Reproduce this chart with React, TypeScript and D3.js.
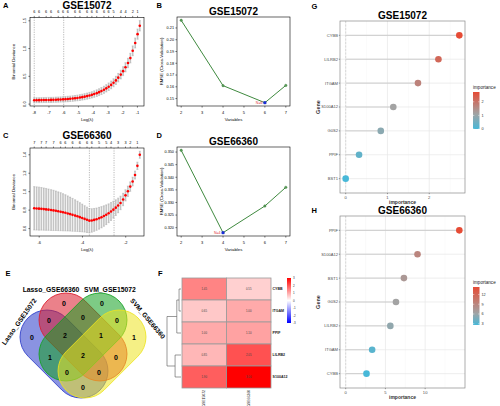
import React from 'react';
import * as d3 from 'd3';

const FONT = "'Liberation Sans', Arial, Helvetica, sans-serif";

// ---------- A: LASSO GSE15072 ----------
const lassoA_logLambda = [-8.00, -7.84, -7.67, -7.51, -7.35, -7.19, -7.02, -6.86, -6.70, -6.53, -6.37, -6.21, -6.04, -5.88, -5.72, -5.56, -5.39, -5.23, -5.07, -4.90, -4.74, -4.58, -4.41, -4.25, -4.09, -3.93, -3.76, -3.60, -3.44, -3.27, -3.11, -2.95, -2.78, -2.62, -2.46, -2.30, -2.13, -1.97, -1.81, -1.64, -1.48, -1.32, -1.15, -0.99, -0.84];
const lassoA_deviance = [0.070, 0.071, 0.071, 0.072, 0.073, 0.074, 0.075, 0.076, 0.077, 0.079, 0.081, 0.083, 0.086, 0.089, 0.092, 0.096, 0.100, 0.105, 0.111, 0.118, 0.125, 0.134, 0.144, 0.155, 0.167, 0.181, 0.197, 0.215, 0.235, 0.258, 0.284, 0.313, 0.346, 0.384, 0.427, 0.476, 0.531, 0.593, 0.663, 0.741, 0.828, 0.960, 1.100, 1.260, 1.410];
const lassoA_se = [0.045, 0.045, 0.045, 0.045, 0.045, 0.046, 0.046, 0.046, 0.046, 0.047, 0.047, 0.047, 0.048, 0.048, 0.049, 0.049, 0.050, 0.050, 0.051, 0.052, 0.053, 0.054, 0.055, 0.056, 0.057, 0.058, 0.060, 0.061, 0.063, 0.064, 0.066, 0.068, 0.070, 0.072, 0.074, 0.076, 0.078, 0.080, 0.082, 0.084, 0.086, 0.088, 0.090, 0.092, 0.094];
const lassoA_topCounts = [6, 6, 6, 6, 6, 6, 6, 6, 6, 6, 6, 6, 6, 6, 5, 4, 4, 2, 1];
const lassoA_xTicks = [-8, -7, -6, -5, -4, -3, -2, -1];
const lassoA_yTicks = [0.0, 0.5, 1.0, 1.5];
const lassoA_vlines = [-8.0, -6.0];

// ---------- C: LASSO GSE66360 ----------
const lassoC_logLambda = [-6.23, -6.12, -6.01, -5.90, -5.79, -5.68, -5.57, -5.45, -5.34, -5.23, -5.12, -5.01, -4.90, -4.79, -4.68, -4.57, -4.46, -4.34, -4.23, -4.12, -4.01, -3.90, -3.79, -3.68, -3.57, -3.46, -3.35, -3.23, -3.12, -3.01, -2.90, -2.79, -2.68, -2.57, -2.46, -2.35, -2.24, -2.12, -2.01, -1.90, -1.79, -1.68, -1.57, -1.46, -1.35];
const lassoC_deviance = [0.820, 0.818, 0.816, 0.814, 0.811, 0.808, 0.805, 0.801, 0.797, 0.793, 0.788, 0.783, 0.777, 0.771, 0.764, 0.757, 0.749, 0.741, 0.733, 0.724, 0.715, 0.705, 0.695, 0.686, 0.688, 0.694, 0.702, 0.712, 0.723, 0.736, 0.750, 0.766, 0.785, 0.805, 0.827, 0.851, 0.878, 0.915, 0.960, 1.005, 1.055, 1.110, 1.180, 1.280, 1.400];
const lassoC_se = [0.235, 0.234, 0.233, 0.231, 0.229, 0.227, 0.224, 0.221, 0.218, 0.214, 0.210, 0.206, 0.201, 0.196, 0.190, 0.184, 0.178, 0.171, 0.164, 0.157, 0.150, 0.143, 0.137, 0.131, 0.127, 0.124, 0.121, 0.118, 0.115, 0.111, 0.107, 0.102, 0.097, 0.091, 0.085, 0.079, 0.073, 0.067, 0.061, 0.056, 0.051, 0.047, 0.043, 0.040, 0.038];
const lassoC_topCounts = [7, 7, 7, 7, 6, 6, 6, 6, 6, 6, 5, 5, 4, 3, 3, 2, 1];
const lassoC_xTicks = [-6, -4, -2];
const lassoC_yTicks = [0.6, 0.8, 1.0, 1.2, 1.4];
const lassoC_vlines = [-3.68, -2.54];

// ---------- B / D: SVM-RFE ----------
const rfeB_vars = [2, 4, 6, 7];
const rfeB_rmse = [0.2165, 0.1610, 0.1465, 0.1612];
const rfeB_xTicks = [2, 3, 4, 5, 6, 7];
const rfeB_yTicks = [0.15, 0.16, 0.17, 0.18, 0.19, 0.20, 0.21];
const rfeD_vars = [2, 4, 6, 7];
const rfeD_rmse = [0.3507, 0.3180, 0.3286, 0.3360];
const rfeD_xTicks = [2, 3, 4, 5, 6, 7];
const rfeD_yTicks = [0.320, 0.325, 0.330, 0.335, 0.340, 0.345, 0.350];

// ---------- E: Venn ----------
const vennSets = ['Lasso_GSE15072', 'Lasso_GSE66360', 'SVM_GSE15072', 'SVM_GSE66360'];
const vennColors = ['#2A3AC8', '#DA1A2A', '#12A020', '#ECE420'];
// region key: membership of [Lasso_GSE15072, Lasso_GSE66360, SVM_GSE15072, SVM_GSE66360]
const vennRegionKeys = ['1000', '0100', '0010', '0001', '1100', '1010', '1001', '0110', '0101', '0011', '1110', '1101', '1011', '0111', '1111'];
const vennRegionCounts = [0, 0, 0, 1, 0, 1, 0, 0, 0, 0, 2, 0, 0, 1, 2];

// ---------- F: heatmap ----------
const heatGenes = ['CYBB', 'ITGAM', 'PPIF', 'LILRB2', 'S100A12'];
const heatColumns = ['GSE15072', 'GSE66360'];
const heatValsCol1 = [1.45, 0.65, 1.00, 0.85, 1.90];
const heatValsCol2 = [0.55, 1.00, 1.10, 2.05, 3.00];
const heatLegendTicks = [3, 2, 1, 0, -1, -2, -3];
const dendroMerges = [
  { a: 'CYBB', b: 'ITGAM', h: 0.25 },
  { a: 'm0', b: 'PPIF', h: 0.54 },
  { a: 'LILRB2', b: 'S100A12', h: 0.76 },
  { a: 'm1', b: 'm2', h: 1.8 },
];

// ---------- G / H: importance ----------
const impG_genes = ['CYBB', 'LILRB2', 'ITGAM', 'S100A12', 'G0S2', 'PPIF', 'BST1'];
const impG_vals = [2.72, 2.22, 1.73, 1.14, 0.84, 0.32, 0.00];
const impG_xTicks = [0, 1, 2];
const impG_legendTicks = [0, 1, 2];
const impH_genes = ['PPIF', 'S100A12', 'BST1', 'G0S2', 'LILRB2', 'ITGAM', 'CYBB'];
const impH_vals = [14.3, 9.04, 7.33, 6.33, 5.62, 3.33, 2.62];
const impH_xTicks = [0, 5, 10];
const impH_legendTicks = [3, 6, 9, 12];

function padExtent(vals: number[], frac = 0.04): [number, number] {
  const [a, b] = d3.extent(vals) as [number, number];
  const p = (b - a) * frac;
  return [a - p, b + p];
}

function Letter({ x, y, t }: any) {
  return <text x={x} y={y} fontSize={7.5} fontWeight="bold" fontFamily={FONT}>{t}</text>;
}

function LassoPanel(p: any) {
  const { left, right, top, bottom, logL, dev, se, topCounts, xTicks, yTicks, vlines, title, titleBase } = p;
  const x = d3.scaleLinear().domain(padExtent(logL)).range([left, right]);
  const lo = dev.map((d: number, i: number) => d - se[i]);
  const hi = dev.map((d: number, i: number) => d + se[i]);
  const y = d3.scaleLinear().domain(padExtent([...lo, ...hi])).range([bottom, top]);
  const cx = (left + right) / 2;
  const cy = (top + bottom) / 2;
  const n = logL.length;
  const m = topCounts.length;
  const fmt = d3.format('.1f');
  return (
    <g fontFamily={FONT}>
      <text x={cx} y={titleBase} textAnchor="middle" fontSize={10} fontWeight="bold">{title}</text>
      {vlines.map((v: number) => (
        <line key={v} x1={x(v)} x2={x(v)} y1={top} y2={bottom} stroke="#8a8a8a" strokeWidth={0.6} strokeDasharray="1.2,1.2" />
      ))}
      {logL.map((l: number, i: number) => (
        <g key={'e' + i} stroke="#c4c4c4" strokeWidth={1.6}>
          <line x1={x(l)} x2={x(l)} y1={y(lo[i])} y2={y(hi[i])} />
        </g>
      ))}
      {logL.map((l: number, i: number) => (
        <g key={'c' + i} stroke="#a8a8a8" strokeWidth={0.5}>
          <line x1={x(l) - 1} x2={x(l) + 1} y1={y(lo[i])} y2={y(lo[i])} />
          <line x1={x(l) - 1} x2={x(l) + 1} y1={y(hi[i])} y2={y(hi[i])} />
        </g>
      ))}
      {logL.map((l: number, i: number) => (
        <circle key={'p' + i} cx={x(l)} cy={y(dev[i])} r={1.3} fill="#ff0000" />
      ))}
      <rect x={left} y={top} width={right - left} height={bottom - top} fill="none" stroke="#000" strokeWidth={0.6} />
      {xTicks.map((t: number) => (
        <g key={'xt' + t}>
          <line x1={x(t)} x2={x(t)} y1={bottom} y2={bottom + 1.6} stroke="#000" strokeWidth={0.5} />
          <text x={x(t)} y={bottom + 7.5} fontSize={4} textAnchor="middle">{t}</text>
        </g>
      ))}
      {yTicks.map((t: number) => (
        <g key={'yt' + t}>
          <line x1={left - 1.6} x2={left} y1={y(t)} y2={y(t)} stroke="#000" strokeWidth={0.5} />
          <text transform={`translate(${left - 4.3},${y(t)}) rotate(-90)`} fontSize={4} textAnchor="middle">{fmt(t)}</text>
        </g>
      ))}
      {topCounts.map((c: number, k: number) => {
        const idx = Math.round((k * (n - 2)) / (m - 1));
        const xx = x(logL[idx]);
        return (
          <g key={'tc' + k}>
            <line x1={xx} x2={xx} y1={top} y2={top - 1.4} stroke="#000" strokeWidth={0.5} />
            <text x={xx} y={top - 4.5} fontSize={3.8} textAnchor="middle">{c}</text>
          </g>
        );
      })}
      <text x={cx} y={bottom + 15} fontSize={4.3} textAnchor="middle">Log(λ)</text>
      <text transform={`translate(${left - 15.5},${cy}) rotate(-90)`} fontSize={4.3} textAnchor="middle">Binomial Deviance</text>
    </g>
  );
}

function RfePanel(p: any) {
  const { left, right, top, bottom, vars, rmse, xTicks, yTicks, title, titleBase, yFmt } = p;
  const x = d3.scaleLinear().domain(padExtent(vars)).range([left, right]);
  const y = d3.scaleLinear().domain(padExtent(rmse)).range([bottom, top]);
  const line = d3.line<number>().x((_, i) => x(vars[i])).y((d) => y(d));
  const best = d3.minIndex(rmse);
  const fmt = d3.format(yFmt);
  const cx = (left + right) / 2;
  const cy = (top + bottom) / 2;
  return (
    <g fontFamily={FONT}>
      <text x={cx} y={titleBase} textAnchor="middle" fontSize={10} fontWeight="bold">{title}</text>
      <path d={line(rmse) || ''} fill="none" stroke="#3f8a3f" strokeWidth={1} />
      {rmse.map((r: number, i: number) => (
        <circle key={i} cx={x(vars[i])} cy={y(r)} r={1.2} fill="#5aa05a" stroke="#2f6f2f" strokeWidth={0.4} />
      ))}
      <rect x={x(vars[best]) - 1.4} y={y(rmse[best]) - 1.4} width={2.8} height={2.8} fill="#1a2bdc" />
      <text x={x(vars[best]) - 2.4} y={y(rmse[best]) + 1.3} fontSize={3.6} fill="#e0303a" textAnchor="end">{`N=${vars[best]}`}</text>
      <rect x={left} y={top} width={right - left} height={bottom - top} fill="none" stroke="#000" strokeWidth={0.6} />
      {xTicks.map((t: number) => (
        <g key={'xt' + t}>
          <line x1={x(t)} x2={x(t)} y1={bottom} y2={bottom + 1.6} stroke="#000" strokeWidth={0.5} />
          <text x={x(t)} y={bottom + 7.5} fontSize={4} textAnchor="middle">{t}</text>
        </g>
      ))}
      {yTicks.map((t: number) => (
        <g key={'yt' + t}>
          <line x1={left - 1.6} x2={left} y1={y(t)} y2={y(t)} stroke="#000" strokeWidth={0.5} />
          <text x={left - 3} y={y(t) + 1.3} fontSize={3.8} textAnchor="end">{fmt(t)}</text>
        </g>
      ))}
      <text x={cx} y={bottom + 15} fontSize={4.3} textAnchor="middle">Variables</text>
      <text transform={`translate(${left - 14},${cy}) rotate(-90)`} fontSize={4.3} textAnchor="middle">RMSE (Cross-Validation)</text>
    </g>
  );
}

// capsule geometry for the 4-set Venn (layout)
const VR = 27;
const VHALF = 24;
function capsule(cx: number, cy: number, angle: number) {
  const a = (angle * Math.PI) / 180;
  const dx = Math.cos(a) * VHALF;
  const dy = Math.sin(a) * VHALF;
  return { cx, cy, angle, p1: [cx - dx, cy - dy], p2: [cx + dx, cy + dy] };
}
function sdCapsule(px: number, py: number, c: any) {
  const [ax, ay] = c.p1;
  const [bx, by] = c.p2;
  const vx = bx - ax, vy = by - ay;
  let t = ((px - ax) * vx + (py - ay) * vy) / (vx * vx + vy * vy);
  t = Math.max(0, Math.min(1, t));
  const qx = ax + t * vx, qy = ay + t * vy;
  return Math.hypot(px - qx, py - qy) - VR;
}

function VennPanel() {
  const midX = 83;
  const shapes = [
    capsule(midX - 19, 354, 45),
    capsule(midX, 337, 45),
    capsule(midX, 337, -45),
    capsule(midX + 19, 354, -45),
  ];
  const best: Record<string, { d: number; x: number; y: number }> = {};
  for (let yy = 280; yy <= 402; yy += 1) {
    for (let xx = 15; xx <= 152; xx += 1) {
      const sds = shapes.map((s) => sdCapsule(xx, yy, s));
      const key = sds.map((d) => (d < 0 ? '1' : '0')).join('');
      if (key === '0000') continue;
      const depth = Math.min(...sds.map((d) => Math.abs(d)));
      if (!best[key] || depth > best[key].d) best[key] = { d: depth, x: xx, y: yy };
    }
  }
  return (
    <g fontFamily={FONT}>
      {shapes.map((s, i) => (
        <rect
          key={i}
          transform={`translate(${s.cx},${s.cy}) rotate(${s.angle})`}
          x={-(VHALF + VR)}
          y={-VR}
          width={2 * (VHALF + VR)}
          height={2 * VR}
          rx={VR}
          fill={vennColors[i]}
          fillOpacity={0.55}
          stroke={vennColors[i]}
          strokeWidth={0.8}
        />
      ))}
      {vennRegionKeys.map((k, i) =>
        best[k] ? (
          <text key={k} x={best[k].x} y={best[k].y + 2.5} fontSize={7} fontWeight="bold" textAnchor="middle">
            {vennRegionCounts[i]}
          </text>
        ) : null
      )}
      <text x={51} y={291.5} fontSize={6.8} fontWeight="bold" textAnchor="middle">{vennSets[1]}</text>
      <text x={110} y={291.5} fontSize={6.8} fontWeight="bold" textAnchor="middle">{vennSets[2]}</text>
      <text transform="translate(21,323) rotate(-55)" fontSize={6.6} fontWeight="bold" textAnchor="middle">{vennSets[0]}</text>
      <text transform="translate(146,320) rotate(50)" fontSize={6.6} fontWeight="bold" textAnchor="middle">{vennSets[3]}</text>
    </g>
  );
}

function HeatmapPanel() {
  const left = 182, right = 271, top = 278, bottom = 388;
  const cols = [heatValsCol1, heatValsCol2];
  const xb = d3.scaleBand().domain(heatColumns).range([left, right]);
  const yb = d3.scaleBand().domain(heatGenes).range([top, bottom]);
  const color = d3.scaleLinear<string>().domain([-3, 0, 3]).range(['#0000ff', '#ffffff', '#ff0000']);
  const fmt = d3.format('.2f');
  const maxH = d3.max(dendroMerges, (d) => d.h) as number;
  const hx = d3.scaleLinear().domain([0, maxH]).range([181, 167]);
  const nodes: Record<string, { y: number; h: number }> = {};
  heatGenes.forEach((g) => (nodes[g] = { y: (yb(g) as number) + yb.bandwidth() / 2, h: 0 }));
  const segs: any[] = [];
  dendroMerges.forEach((m, i) => {
    const A = nodes[m.a], B = nodes[m.b];
    segs.push([hx(A.h), A.y, hx(m.h), A.y]);
    segs.push([hx(B.h), B.y, hx(m.h), B.y]);
    segs.push([hx(m.h), A.y, hx(m.h), B.y]);
    nodes['m' + i] = { y: (A.y + B.y) / 2, h: m.h };
  });
  const lgTop = 278, lgBottom = 323, lgX = 287;
  const ly = d3.scaleLinear().domain([3, -3]).range([lgTop, lgBottom]);
  return (
    <g fontFamily={FONT}>
      <defs>
        <linearGradient id="heatGrad" x1="0" y1="0" x2="0" y2="1">
          <stop offset="0%" stopColor="#ff0000" />
          <stop offset="50%" stopColor="#ffffff" />
          <stop offset="100%" stopColor="#0000ff" />
        </linearGradient>
      </defs>
      {cols.map((vals, ci) =>
        vals.map((v, ri) => (
          <g key={ci + '-' + ri}>
            <rect
              x={xb(heatColumns[ci])}
              y={yb(heatGenes[ri])}
              width={xb.bandwidth()}
              height={yb.bandwidth()}
              fill={color(v)}
              stroke="#9a9a9a"
              strokeWidth={0.8}
            />
            <text
              x={(xb(heatColumns[ci]) as number) + xb.bandwidth() / 2}
              y={(yb(heatGenes[ri]) as number) + yb.bandwidth() / 2 + 1}
              fontSize={2.8}
              fill="#444"
              textAnchor="middle"
            >
              {fmt(v)}
            </text>
          </g>
        ))
      )}
      {heatGenes.map((g) => (
        <text key={g} x={right + 1.5} y={(yb(g) as number) + yb.bandwidth() / 2 + 1.2} fontSize={3.6} fontWeight="bold" fill="#222">
          {g}
        </text>
      ))}
      {heatColumns.map((c) => (
        <text
          key={c}
          transform={`translate(${(xb(c) as number) + xb.bandwidth() / 2 + 1.2},${bottom + 2}) rotate(-90)`}
          fontSize={3.4}
          textAnchor="end"
          fill="#222"
        >
          {c}
        </text>
      ))}
      {segs.map((s, i) => (
        <line key={i} x1={s[0]} y1={s[1]} x2={s[2]} y2={s[3]} stroke="#555" strokeWidth={0.6} />
      ))}
      <rect x={lgX} y={lgTop} width={4} height={lgBottom - lgTop} fill="url(#heatGrad)" />
      {heatLegendTicks.map((t) => (
        <text key={t} x={lgX + 6} y={ly(t) + 1} fontSize={3} fill="#333">{t}</text>
      ))}
    </g>
  );
}

function ImportancePanel(p: any) {
  const { genes, vals, xTicks, legendTicks, title, titleBase, left, right, top, bottom, lgTop, lgBottom, gradId } = p;
  const xDom = padExtent([0, ...vals], 0.05);
  const x = d3.scaleLinear().domain(xDom).range([left, right]);
  const y = d3.scalePoint().domain(genes).range([top, bottom]).padding(0.6);
  const [mn, mx] = d3.extent(vals) as [number, number];
  const med = d3.median(vals) as number;
  const color = d3.scaleLinear<string>().domain([mn, med, mx]).range(['#47B8D8', '#A3A3A3', '#E64B35']);
  const stepT = xTicks[1] - xTicks[0];
  const minor = [...xTicks.map((t: number) => t + stepT / 2), xTicks[0] - stepT / 2].filter((v: number) => v > xDom[0] && v < xDom[1]);
  const ly = d3.scaleLinear().domain([mn, mx]).range([lgBottom, lgTop]);
  const stops = d3.range(0, 1.0001, 0.1).map((f) => ({ f, c: color(mn + (mx - mn) * (1 - f)) }));
  const cx = (left + right) / 2;
  const cy = (top + bottom) / 2;
  const lgX = 473;
  return (
    <g fontFamily={FONT}>
      <defs>
        <linearGradient id={gradId} x1="0" y1="0" x2="0" y2="1">
          {stops.map((s) => (
            <stop key={s.f} offset={`${s.f * 100}%`} stopColor={s.c} />
          ))}
        </linearGradient>
      </defs>
      <text x={cx} y={titleBase} textAnchor="middle" fontSize={10} fontWeight="bold">{title}</text>
      <rect x={left} y={top} width={right - left} height={bottom - top} fill="#fff" />
      {minor.map((t: number) => (
        <line key={'mi' + t} x1={x(t)} x2={x(t)} y1={top} y2={bottom} stroke="#f2f2f2" strokeWidth={0.4} />
      ))}
      {xTicks.map((t: number) => (
        <line key={'ma' + t} x1={x(t)} x2={x(t)} y1={top} y2={bottom} stroke="#e6e6e6" strokeWidth={0.7} />
      ))}
      {genes.map((g: string) => (
        <line key={'gl' + g} x1={left} x2={right} y1={y(g)} y2={y(g)} stroke="#e6e6e6" strokeWidth={0.7} />
      ))}
      <line x1={x(0)} x2={x(0)} y1={top} y2={bottom} stroke="#cfcfcf" strokeWidth={0.7} strokeDasharray="2,1.5" />
      {genes.map((g: string, i: number) => (
        <line key={'sg' + g} x1={x(0)} x2={x(vals[i])} y1={y(g)} y2={y(g)} stroke="#c8c8c8" strokeWidth={0.9} />
      ))}
      {genes.map((g: string, i: number) => (
        <circle key={'pt' + g} cx={x(vals[i])} cy={y(g)} r={3.3} fill={color(vals[i])} />
      ))}
      <rect x={left} y={top} width={right - left} height={bottom - top} fill="none" stroke="#8a8a8a" strokeWidth={0.7} />
      {genes.map((g: string) => (
        <g key={'yl' + g}>
          <line x1={left - 1.2} x2={left} y1={y(g)} y2={y(g)} stroke="#444" strokeWidth={0.5} />
          <text x={left - 2} y={(y(g) as number) + 1.4} fontSize={4.1} textAnchor="end" fill="#4d4d4d">{g}</text>
        </g>
      ))}
      {xTicks.map((t: number) => (
        <g key={'xl' + t}>
          <line x1={x(t)} x2={x(t)} y1={bottom} y2={bottom + 1.2} stroke="#444" strokeWidth={0.5} />
          <text x={x(t)} y={bottom + 5.6} fontSize={4.1} textAnchor="middle" fill="#4d4d4d">{t}</text>
        </g>
      ))}
      <text x={cx} y={bottom + 11.2} fontSize={5} textAnchor="middle" fontWeight="bold" fill="#333">importance</text>
      <text transform={`translate(${left - 20.5},${cy}) rotate(-90)`} fontSize={5.5} textAnchor="middle" fontWeight="bold" fill="#333">Gene</text>
      <text x={lgX} y={lgTop - 3.2} fontSize={4.6} fill="#222">importance</text>
      <rect x={lgX} y={lgTop} width={6.5} height={lgBottom - lgTop} fill={`url(#${gradId})`} />
      {legendTicks.map((t: number) => (
        <g key={'lg' + t}>
          <line x1={lgX} x2={lgX + 1.3} y1={ly(t)} y2={ly(t)} stroke="#fff" strokeWidth={0.5} />
          <line x1={lgX + 5.2} x2={lgX + 6.5} y1={ly(t)} y2={ly(t)} stroke="#fff" strokeWidth={0.5} />
          <text x={lgX + 8.5} y={ly(t) + 1.3} fontSize={3.8} fill="#333">{t}</text>
        </g>
      ))}
    </g>
  );
}

export default function App() {
  return (
    <svg width={500} height={406} style={{ position: 'absolute', left: 0, top: 0, background: '#fff' }}>
      <rect width={500} height={406} fill="#fff" />
      <Letter x={3} y={7.5} t="A" />
      <Letter x={156.5} y={7.5} t="B" />
      <Letter x={3} y={137.5} t="C" />
      <Letter x={156.5} y={137.5} t="D" />
      <Letter x={5.5} y={276} t="E" />
      <Letter x={158} y={276} t="F" />
      <Letter x={311.5} y={8.5} t="G" />
      <Letter x={311.5} y={213} t="H" />
      <LassoPanel left={30} right={144} top={17.3} bottom={106} logL={lassoA_logLambda} dev={lassoA_deviance} se={lassoA_se}
        topCounts={lassoA_topCounts} xTicks={lassoA_xTicks} yTicks={lassoA_yTicks} vlines={lassoA_vlines} title="GSE15072" titleBase={9} />
      <LassoPanel left={30} right={144} top={148} bottom={236} logL={lassoC_logLambda} dev={lassoC_deviance} se={lassoC_se}
        topCounts={lassoC_topCounts} xTicks={lassoC_xTicks} yTicks={lassoC_yTicks} vlines={lassoC_vlines} title="GSE66360" titleBase={139} />
      <RfePanel left={177} right={290} top={17} bottom={106} vars={rfeB_vars} rmse={rfeB_rmse} xTicks={rfeB_xTicks} yTicks={rfeB_yTicks}
        title="GSE15072" titleBase={15} yFmt=".2f" />
      <RfePanel left={177} right={290} top={147} bottom={236} vars={rfeD_vars} rmse={rfeD_rmse} xTicks={rfeD_xTicks} yTicks={rfeD_yTicks}
        title="GSE66360" titleBase={145} yFmt=".3f" />
      <VennPanel />
      <HeatmapPanel />
      <ImportancePanel genes={impG_genes} vals={impG_vals} xTicks={impG_xTicks} legendTicks={impG_legendTicks} title="GSE15072" titleBase={19}
        left={340} right={465} top={21} bottom={193} lgTop={92} lgBottom={129} gradId="gradG" />
      <ImportancePanel genes={impH_genes} vals={impH_vals} xTicks={impH_xTicks} legendTicks={impH_legendTicks} title="GSE66360" titleBase={214}
        left={340} right={465} top={216} bottom={388} lgTop={287} lgBottom={325} gradId="gradH" />
    </svg>
  );
}
